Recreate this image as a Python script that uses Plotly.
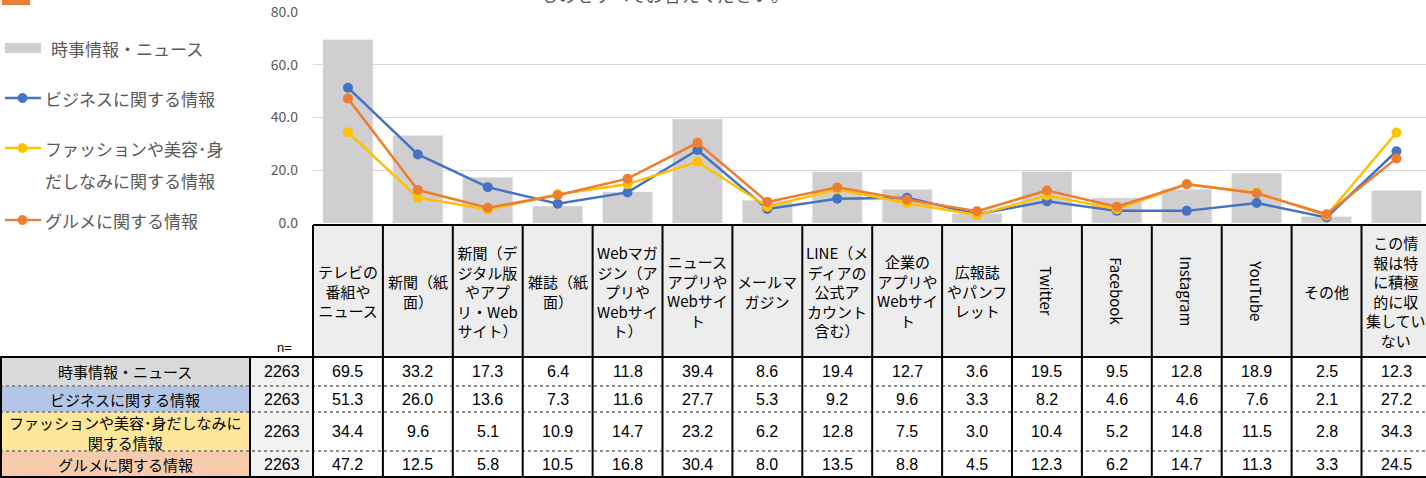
import plotly.graph_objects as go

W, H = 1426, 478

# ---------------- data ----------------
categories = ["テレビの番組やニュース", "新聞（紙面）", "新聞（デジタル版やアプリ・Webサイト）", "雑誌（紙面）",
              "Webマガジン（アプリやWebサイト）", "ニュースアプリやWebサイト", "メールマガジン",
              "LINE（メディアの公式アカウント含む）", "企業のアプリやWebサイト", "広報誌やパンフレット",
              "Twitter", "Facebook", "Instagram", "YouTube", "その他", "この情報は特に積極的に収集していない"]
header_labels = ["テレビの<br>番組や<br>ニュース", "新聞（紙<br>面）", "新聞（デ<br>ジタル版<br>やアプ<br>リ・Web<br>サイト）",
                 "雑誌（紙<br>面）", "Webマガ<br>ジン（ア<br>プリや<br>Webサイ<br>ト）", "ニュース<br>アプリや<br>Webサイ<br>ト",
                 "メールマ<br>ガジン", "LINE（メ<br>ディアの<br>公式ア<br>カウント<br>含む）", "企業の<br>アプリや<br>Webサイ<br>ト",
                 "広報誌<br>やパンフ<br>レット", "Twitter", "Facebook", "Instagram", "YouTube", "その他",
                 "この情<br>報は特<br>に積極<br>的に収<br>集してい<br>ない"]
rotated = {"Twitter", "Facebook", "Instagram", "YouTube"}

series_names = ["時事情報・ニュース", "ビジネスに関する情報", "ファッションや美容・身だしなみに関する情報", "グルメに関する情報"]
row_labels = ["時事情報・ニュース", "ビジネスに関する情報", "ファッションや美容･身だしなみに<br>関する情報", "グルメに関する情報"]
n_values = [2263, 2263, 2263, 2263]

news = [69.5, 33.2, 17.3, 6.4, 11.8, 39.4, 8.6, 19.4, 12.7, 3.6, 19.5, 9.5, 12.8, 18.9, 2.5, 12.3]
business = [51.3, 26.0, 13.6, 7.3, 11.6, 27.7, 5.3, 9.2, 9.6, 3.3, 8.2, 4.6, 4.6, 7.6, 2.1, 27.2]
fashion = [34.4, 9.6, 5.1, 10.9, 14.7, 23.2, 6.2, 12.8, 7.5, 3.0, 10.4, 5.2, 14.8, 11.5, 2.8, 34.3]
gourmet = [47.2, 12.5, 5.8, 10.5, 16.8, 30.4, 8.0, 13.5, 8.8, 4.5, 12.3, 6.2, 14.7, 11.3, 3.3, 24.5]

title_text = "ものをすべてお答えください。"

# ---------------- style ----------------
BAR_C = "#D0CECE"
BLUE, YELLOW, ORANGE = "#4472C4", "#FFC000", "#ED7D31"
LABEL_FILLS = ["#D9D9D9", "#B4C6E7", "#FFE699", "#F8CBAD"]
JP = "Noto Sans CJK JP"
NUM = "Liberation Sans"
GREY_TXT = "#595959"


def px(x):
    return x / W


def py(y):
    return 1 - y / H


PLOT_L, PLOT_T, PLOT_B = 313, 12, 223
COL_W = 69.9
x_end = -0.5 + (W - PLOT_L) / COL_W

fig = go.Figure()
fig.add_trace(go.Bar(x=categories, y=news, marker_color=BAR_C, name=series_names[0], showlegend=False))
for vals, col, nm in [(business, BLUE, series_names[1]), (fashion, YELLOW, series_names[2]),
                      (gourmet, ORANGE, series_names[3])]:
    fig.add_trace(go.Scatter(x=categories, y=vals, mode="lines+markers", name=nm, showlegend=False,
                             line=dict(color=col, width=2.5), marker=dict(color=col, size=10),
                             cliponaxis=False))

shapes = []
ann = []


def text(x, y, t, size, family, color="black", xref="paper", xanchor="center", yanchor="middle", angle=0):
    ann.append(dict(xref=xref, yref="paper", x=x, y=y, text=t, showarrow=False, xanchor=xanchor,
                    yanchor=yanchor, textangle=angle, align="center",
                    font=dict(family=family, size=size, color=color)))


# ---------------- table ----------------
HEAD_T, HEAD_B = 225, 357
row_edges = [357, 386, 412, 451, 477]
LBL_R, N_R = 250, 313

shapes.append(dict(type="rect", xref="paper", yref="paper", x0=px(N_R), x1=1, y0=py(HEAD_B), y1=py(HEAD_T),
                   fillcolor="#EDEDED", line_width=0, layer="below"))
for r in range(4):
    shapes.append(dict(type="rect", xref="paper", yref="paper", x0=px(1), x1=px(LBL_R),
                       y0=py(row_edges[r + 1]), y1=py(row_edges[r]), fillcolor=LABEL_FILLS[r],
                       line_width=0, layer="below"))
shapes.append(dict(type="rect", xref="paper", yref="paper", x0=px(LBL_R), x1=px(N_R),
                   y0=py(row_edges[-1]), y1=py(row_edges[0]), fillcolor="#F2F2F2", line_width=0, layer="below"))

for yy in row_edges[1:-1]:
    shapes.append(dict(type="line", xref="paper", yref="paper", x0=0, x1=1, y0=py(yy), y1=py(yy),
                       line=dict(color="#8C8C8C", width=2, dash="dot"), layer="above"))
shapes.append(dict(type="line", xref="paper", yref="paper", x0=px(N_R), x1=1, y0=py(HEAD_T), y1=py(HEAD_T),
                   line=dict(color="black", width=2)))
shapes.append(dict(type="line", xref="paper", yref="paper", x0=0, x1=1, y0=py(HEAD_B), y1=py(HEAD_B),
                   line=dict(color="black", width=2)))
shapes.append(dict(type="line", xref="paper", yref="paper", x0=0, x1=1, y0=py(477), y1=py(477),
                   line=dict(color="black", width=2)))
for xx, ytop in [(1, HEAD_B), (LBL_R, HEAD_B), (N_R, HEAD_T)]:
    shapes.append(dict(type="line", xref="paper", yref="paper", x0=px(xx), x1=px(xx), y0=py(ytop), y1=py(477),
                       line=dict(color="black", width=2)))
for i in range(1, 16):
    shapes.append(dict(type="line", xref="x", yref="paper", x0=i - 0.5, x1=i - 0.5, y0=py(HEAD_T), y1=py(477),
                       line=dict(color="black", width=2)))

head_cy = (HEAD_T + HEAD_B) / 2
for i, lab in enumerate(header_labels):
    text(i, py(head_cy), lab, 15, JP, xref="x", angle=90 if lab in rotated else 0)
text(px(284), py(347), "n=", 13, NUM)

table_rows = [news, business, fashion, gourmet]
for r, vals in enumerate(table_rows):
    cy = (row_edges[r] + row_edges[r + 1]) / 2
    text(px(LBL_R / 2), py(cy + (1 if r == 2 else 0)), row_labels[r], 15, JP)
    text(px((LBL_R + N_R) / 2), py(cy), str(n_values[r]), 16, NUM)
    for i, v in enumerate(vals):
        text(i, py(cy), f"{v:.1f}", 16, NUM, xref="x")

# ---------------- legend (drawn) ----------------
shapes.append(dict(type="rect", xref="paper", yref="paper", x0=px(2), x1=px(30), y0=py(5), y1=py(-2),
                   fillcolor=ORANGE, line_width=0))
shapes.append(dict(type="rect", xref="paper", yref="paper", x0=px(5), x1=px(41), y0=py(53), y1=py(43),
                   fillcolor=BAR_C, line_width=0))
text(px(49), py(48), series_names[0], 17, JP, GREY_TXT, xanchor="left")
legend_lines = [(BLUE, 98, "ビジネスに関する情報"),
                (YELLOW, 148, "ファッションや美容･身"),
                (ORANGE, 220, "グルメに関する情報")]
for col, yy, txt in legend_lines:
    shapes.append(dict(type="line", xref="paper", yref="paper", x0=px(5), x1=px(41), y0=py(yy), y1=py(yy),
                       line=dict(color=col, width=2.5)))
    shapes.append(dict(type="circle", xref="paper", yref="paper", x0=px(18), x1=px(27), y0=py(yy + 4.5),
                       y1=py(yy - 4.5), fillcolor=col, line=dict(color=col, width=1)))
    text(px(43), py(yy), txt, 17, JP, GREY_TXT, xanchor="left")
text(px(43), py(180), "だしなみに関する情報", 17, JP, GREY_TXT, xanchor="left")

# title (mostly cut off at the top)
text(px(664), py(9), title_text, 18, JP, GREY_TXT, yanchor="bottom")

fig.update_layout(
    width=W, height=H, margin=dict(l=0, r=0, t=0, b=0, autoexpand=False),
    paper_bgcolor="white", plot_bgcolor="white",
    bargap=0.285, showlegend=False,
    shapes=shapes, annotations=ann,
    xaxis=dict(type="category", categoryorder="array", categoryarray=categories,
               range=[-0.5, x_end], domain=[px(PLOT_L), 1], showticklabels=False,
               showgrid=False, zeroline=False, showline=False, ticks="", automargin=False),
    yaxis=dict(range=[0, 80], domain=[py(PLOT_B), py(PLOT_T)], dtick=20, tickformat=".1f",
               showgrid=True, gridcolor="#D9D9D9", gridwidth=1, zeroline=False, showline=False,
               ticks="", ticklabelstandoff=14, automargin=False,
               tickfont=dict(family=JP, size=14, color=GREY_TXT)),
)

fig.write_html("out.html", config={"displayModeBar": False},
               post_script="document.body.style.margin='0';document.body.style.overflow='hidden';")
